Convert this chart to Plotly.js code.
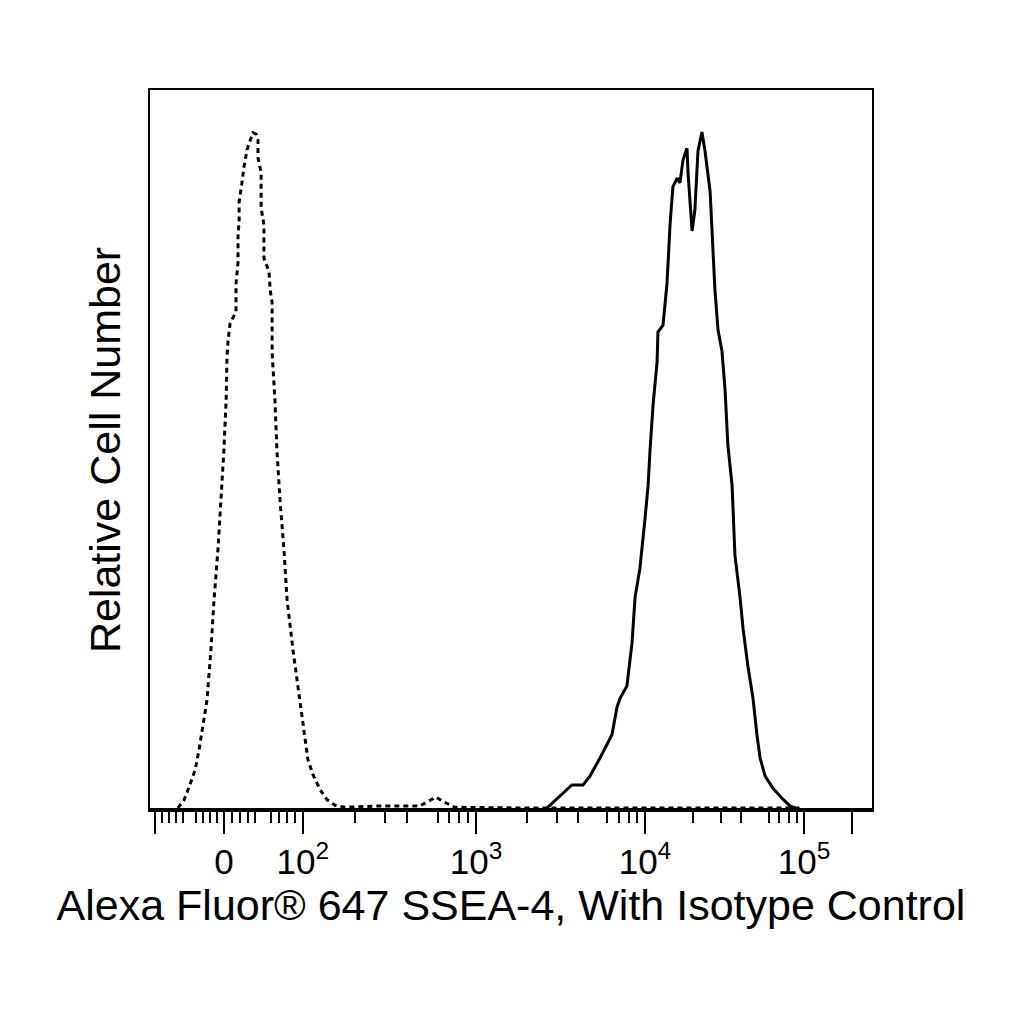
<!DOCTYPE html>
<html>
<head>
<meta charset="utf-8">
<script src="https://cdn.plot.ly/plotly-3.0.1.min.js"></script>
<style>
  html, body { margin: 0; padding: 0; background: #fff; }
  #chart { width: 1024px; height: 1024px; }
</style>
</head>
<body>
<div id="chart"></div>
<script>
// histogram bins on a 256 channel display scale (biexponential)
var isotypeChannel = [9.9, 12.1, 13.5, 16.0, 17.4, 19.2, 20.2, 21.6, 22.7, 24.1, 25.2, 26.2, 27.0, 27.3, 27.7, 28.4,
    30.5, 30.5, 31.2, 31.2, 31.6, 31.6, 32.6, 33.3, 34.4, 35.5, 36.5, 37.6, 38.3, 38.3, 39.4, 39.4, 40.4, 40.4,
    42.2, 42.6, 43.3, 43.3, 44.3, 45.0, 46.1, 47.5, 48.6, 50.7, 53.2, 55.0, 56.0, 57.8, 60.3, 62.8, 65.6, 69.1,
    81.6, 95.7, 98.6, 101.4, 104.2, 108.1, 131.2, 230.5];
var isotypeCount = [0.3, 1.5, 3.0, 5.9, 8.9, 13.3, 16.2, 23.6, 31.0, 38.4, 45.7, 53.1, 60.5, 66.8, 69.3, 71.8,
    73.5, 77.7, 80.7, 84.5, 87.0, 89.7, 92.5, 94.8, 97.4, 98.8, 99.9, 99.7, 98.8, 96.2, 94.0, 88.8, 86.3, 81.4,
    79.4, 76.7, 74.8, 67.4, 60.5, 53.1, 45.7, 38.4, 31.0, 23.6, 16.2, 10.3, 7.4, 5.2, 3.0, 1.5, 0.7, 0.4,
    0.6, 0.6, 1.2, 1.9, 1.2, 0.4, 0.3, 0.3];

var ssea4Channel = [140.8, 149.6, 153.5, 156.0, 159.6, 163.8, 165.6, 166.7, 169.1, 170.9, 172.0, 173.7, 175.5,
    176.6, 177.3, 178.4, 179.8, 180.1, 181.9, 183.3, 184.4, 185.4, 186.9, 187.9, 189.0, 190.4, 190.8, 192.2,
    193.2, 194.3, 195.7, 196.8, 198.6, 199.3, 200.3, 201.4, 202.8, 203.9, 204.9, 206.4, 207.4, 209.2, 210.3,
    212.0, 213.8, 215.2, 216.3, 218.1, 220.9, 224.4, 226.9, 228.7];
var ssea4Count = [0.3, 3.7, 3.7, 5.0, 7.7, 11.1, 15.2, 16.5, 18.3, 24.6, 31.4, 35.6, 42.9,
    47.8, 53.1, 59.9, 66.1, 70.5, 71.5, 77.6, 86.4, 91.9, 93.2, 92.5, 95.9, 97.6, 93.8, 85.4,
    88.5, 97.2, 100, 97.2, 91.2, 84.4, 76.8, 70.8, 67.7, 62.0, 53.8, 47.8, 37.6, 31.4, 26.7,
    21.2, 16.5, 11.1, 7.7, 5.0, 3.2, 1.6, 0.6, 0.3];

// axis scale anchors: value -> channel
var anchorValues = [-100, 0, 100, 1000, 10000, 100000];
var anchorChannels = [1.8, 26.2, 54.2, 115.6, 175.5, 231.9];

var majorValues = [-100, 0, 100, 1000, 10000, 100000, 200000];
var majorLabels = ['', '0', '10<sup>2</sup>', '10<sup>3</sup>', '10<sup>4</sup>', '10<sup>5</sup>', ''];
var mediumValues = [-50, 50, 500, 5000, 50000];
var minorValues = [-90, -80, -70, -60, -40, -30, -20, -10, 10, 20, 30, 40, 60, 70, 80, 90,
    200, 300, 400, 600, 700, 800, 900,
    2000, 3000, 4000, 6000, 7000, 8000, 9000,
    20000, 30000, 40000, 60000, 70000, 80000, 90000];

function toChannel(v) {
    var n = anchorValues.length;
    if (v <= anchorValues[2]) {
        var i = v <= anchorValues[1] ? 0 : 1;
        var f = (v - anchorValues[i]) / (anchorValues[i + 1] - anchorValues[i]);
        return anchorChannels[i] + f * (anchorChannels[i + 1] - anchorChannels[i]);
    }
    var lv = Math.log10(v);
    for (var i = 2; i < n - 1; i++) {
        if (v <= anchorValues[i + 1]) {
            var f = (lv - Math.log10(anchorValues[i])) / (Math.log10(anchorValues[i + 1]) - Math.log10(anchorValues[i]));
            return anchorChannels[i] + f * (anchorChannels[i + 1] - anchorChannels[i]);
        }
    }
    // beyond the last decade keep the last decade width
    return anchorChannels[n - 1] + (lv - Math.log10(anchorValues[n - 1])) * (anchorChannels[n - 1] - anchorChannels[n - 2]);
}

var fontFamily = 'Arial, "Liberation Sans", sans-serif';

var plotdata = [
    {
        x: isotypeChannel,
        y: isotypeCount,
        mode: 'lines',
        type: 'scatter',
        line: { color: 'black', width: 3, dash: '5px,4px' },
        name: 'Isotype Control',
        hoverinfo: 'skip'
    },
    {
        x: ssea4Channel,
        y: ssea4Count,
        mode: 'lines',
        type: 'scatter',
        line: { color: 'black', width: 3 },
        name: 'SSEA-4',
        hoverinfo: 'skip'
    }
];

var layout = {
    width: 1024,
    height: 1024,
    showlegend: false,
    paper_bgcolor: 'white',
    plot_bgcolor: 'white',
    font: { family: fontFamily, color: 'black' },
    margin: { l: 150, r: 152, t: 90, b: 214 },
    xaxis: {
        range: [0, 256],
        showgrid: false,
        zeroline: false,
        showline: true,
        linecolor: 'black',
        linewidth: 2,
        mirror: true,
        ticks: 'outside',
        ticklen: 22,
        tickwidth: 2,
        tickcolor: 'black',
        tickmode: 'array',
        tickvals: majorValues.map(toChannel),
        ticktext: majorLabels,
        tickfont: { size: 35, family: fontFamily, color: 'black' },
        ticklabelstandoff: -2,
        minor: {
            tickmode: 'array',
            tickvals: minorValues.map(toChannel),
            ticks: 'outside',
            ticklen: 11,
            tickwidth: 2,
            tickcolor: 'black',
            showgrid: false
        },
        title: {
            text: 'Alexa Fluor® 647 SSEA-4, With Isotype Control',
            font: { size: 43, family: fontFamily, color: 'black' },
            standoff: 10
        }
    },
    xaxis2: {
        overlaying: 'x',
        anchor: 'y',
        side: 'bottom',
        range: [0, 256],
        showgrid: false,
        zeroline: false,
        showline: false,
        ticks: 'outside',
        ticklen: 16,
        tickwidth: 2,
        tickcolor: 'black',
        tickmode: 'array',
        tickvals: mediumValues.map(toChannel),
        showticklabels: false
    },
    yaxis: {
        range: [0, 106.2],
        showgrid: false,
        zeroline: false,
        showline: true,
        linecolor: 'black',
        linewidth: 2,
        mirror: true,
        ticks: '',
        showticklabels: false,
        title: {
            text: 'Relative Cell Number',
            font: { size: 43, family: fontFamily, color: 'black' },
            standoff: 14
        }
    },
    shapes: [
        // heavier base line under the histograms
        { type: 'line', xref: 'paper', yref: 'paper', x0: 0, x1: 1, y0: 0, y1: 0,
          line: { color: 'black', width: 4 } }
    ]
};

var config = { staticPlot: true, displayModeBar: false };
Plotly.newPlot(document.getElementById('chart'), plotdata, layout, config);
</script>
</body>
</html>
